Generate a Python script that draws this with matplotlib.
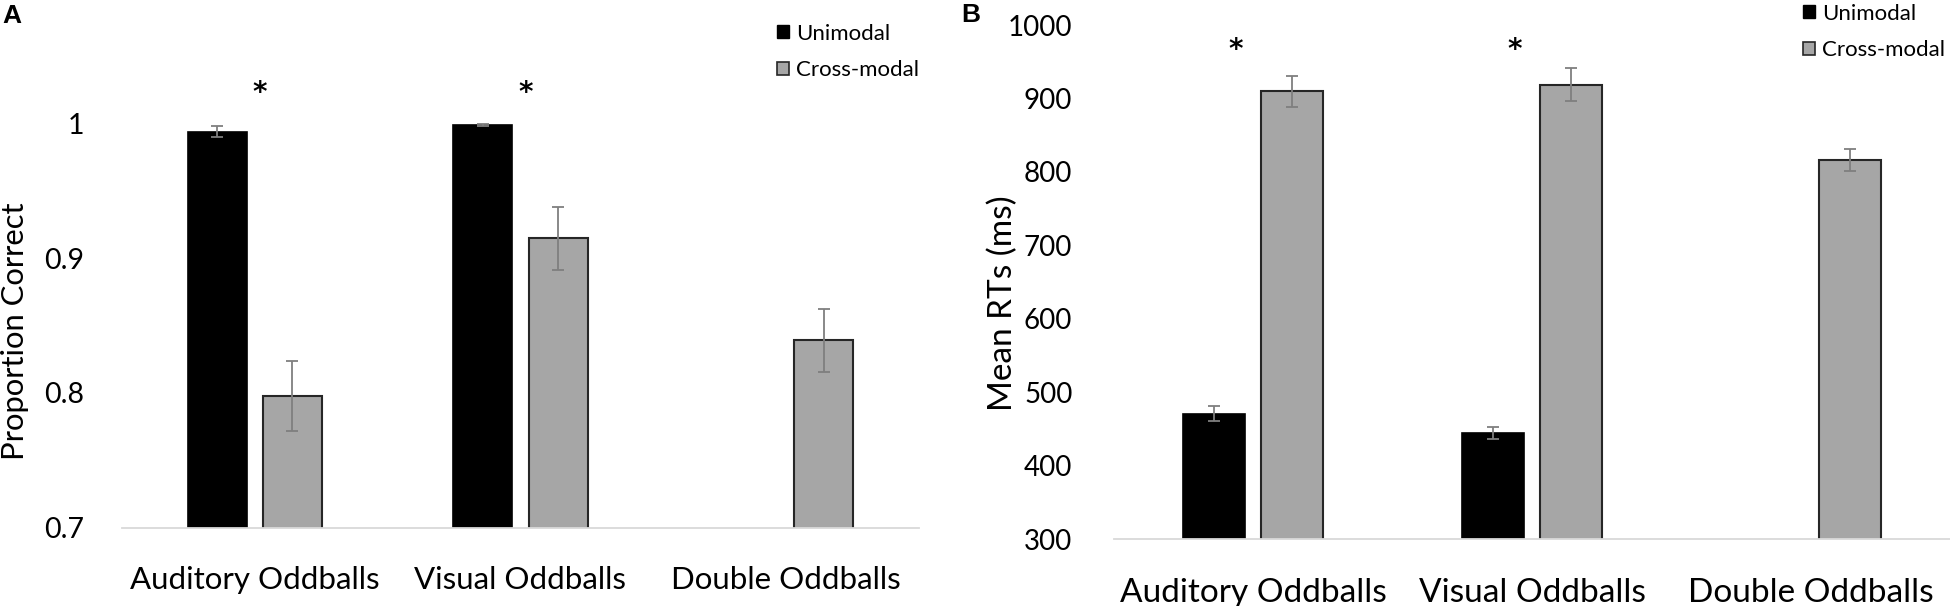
import numpy as np
import matplotlib
matplotlib.use('Agg')
import matplotlib.pyplot as plt
from matplotlib.patches import Patch

plt.rcParams['font.family'] = ['Lato', 'DejaVu Sans']

categories = ['Auditory Oddballs', 'Visual Oddballs', 'Double Oddballs']
series = ['Unimodal', 'Cross-modal']

# panel A - proportion correct
acc_uni = [0.994, 0.999, np.nan]
acc_uni_err = [0.004, 0.001, np.nan]
acc_cross = [0.798, 0.915, 0.839]
acc_cross_err = [0.026, 0.0235, 0.0235]
acc_ticks = [0.7, 0.8, 0.9, 1.0]
acc_tick_labels = ['0.7', '0.8', '0.9', '1']

# panel B - mean RTs
rt_uni = [471, 445, np.nan]
rt_uni_err = [10, 8, np.nan]
rt_cross = [910, 919, 816]
rt_cross_err = [21, 23, 15]
rt_ticks = [300, 400, 500, 600, 700, 800, 900, 1000]

# significance markers (category index, height)
acc_stars = [(0, 1.023), (1, 1.023)]
rt_stars = [(0, 966), (1, 966)]

W, H = 1950, 606
fig = plt.figure(figsize=(W / 100, H / 100), dpi=100)

uni_col = '#000000'
cross_col = '#a6a6a6'
edge_col = '#262626'
err_col = '#7f7f7f'


def px_axes(left, right, bottom, top):
    return fig.add_axes([left / W, 1 - bottom / H, (right - left) / W, (bottom - top) / H])


def draw(ax, uni, uni_err, cross, cross_err, off, width):
    x = np.arange(len(categories))
    ax.bar(x - off, uni, width, color=uni_col, edgecolor=uni_col, linewidth=1.2)
    ax.bar(x + off, cross, width, color=cross_col, edgecolor=edge_col, linewidth=1.5)
    ax.errorbar(x - off, uni, yerr=uni_err, fmt='none', ecolor=err_col,
                elinewidth=1.3, capsize=4, capthick=1.3)
    ax.errorbar(x + off, cross, yerr=cross_err, fmt='none', ecolor=err_col,
                elinewidth=1.3, capsize=4, capthick=1.3)
    ax.set_xlim(-0.5, len(categories) - 0.5)
    ax.set_xticks(x)
    for s in ['top', 'right', 'left']:
        ax.spines[s].set_visible(False)
    ax.spines['bottom'].set_color('#d9d9d9')
    ax.spines['bottom'].set_linewidth(1.3)
    ax.tick_params(length=0)


# ---- panel A ----
axA = px_axes(122, 919, 527.6, 10)
draw(axA, acc_uni, acc_uni_err, acc_cross, acc_cross_err, 0.1416, 0.222)
axA.set_ylim(0.7, 1.0 + (123.7 - 10) / 134.6 * 0.1)
axA.set_yticks(acc_ticks)
axA.set_yticklabels(acc_tick_labels, fontsize=20.5)
axA.tick_params(axis='y', pad=27)
axA.set_xticklabels(categories, fontsize=22.5)
axA.tick_params(axis='x', pad=28)
for i, h in acc_stars:
    axA.text(i + 0.02, h, '*', ha='center', va='center', fontsize=20,
             fontweight='bold', family='DejaVu Sans')

# ---- panel B ----
axB = px_axes(1114, 1950, 539.2, 10)
draw(axB, rt_uni, rt_uni_err, rt_cross, rt_cross_err, 0.14, 0.222)
axB.set_ylim(300, 1000 + (25.1 - 10) / 73.4 * 100)
axB.set_yticks(rt_ticks)
axB.tick_params(axis='y', labelsize=20, pad=30)
axB.set_xticklabels(categories, fontsize=24)
axB.tick_params(axis='x', pad=28)
for i, h in rt_stars:
    axB.text(i - 0.063, h, '*', ha='center', va='center', fontsize=20,
             fontweight='bold', family='DejaVu Sans')

# axis titles
fig.text(15 / W, 1 - 331 / H, 'Proportion Correct', rotation=90, ha='center', va='center',
         fontsize=22.3)
fig.text(1003 / W, 1 - 303.5 / H, 'Mean RTs (ms)', rotation=90, ha='center', va='center',
         fontsize=24)

# panel letters
fig.text(2 / W, 1 - 4 / H, 'A', ha='left', va='top', fontsize=19, fontweight='bold',
         family='Liberation Sans')
fig.text(961 / W, 1 - 3 / H, 'B', ha='left', va='top', fontsize=19, fontweight='bold',
         family='Liberation Sans')

# legends
handles = [Patch(facecolor=uni_col, edgecolor=uni_col, linewidth=1),
           Patch(facecolor=cross_col, edgecolor=edge_col, linewidth=1.2)]
leg_kw = dict(frameon=False, fontsize=16, handlelength=0.55, handleheight=0.55,
              handletextpad=0.32, labelspacing=0.75, borderpad=0, borderaxespad=0,
              loc='upper left', bbox_transform=fig.transFigure)
axA.legend(handles, series, bbox_to_anchor=(777 / W, 1 - 23.5 / H), **leg_kw)
axB.legend(handles, series, bbox_to_anchor=(1803 / W, 1 - 3.5 / H), **leg_kw)

fig.savefig('out.png', dpi=100)
